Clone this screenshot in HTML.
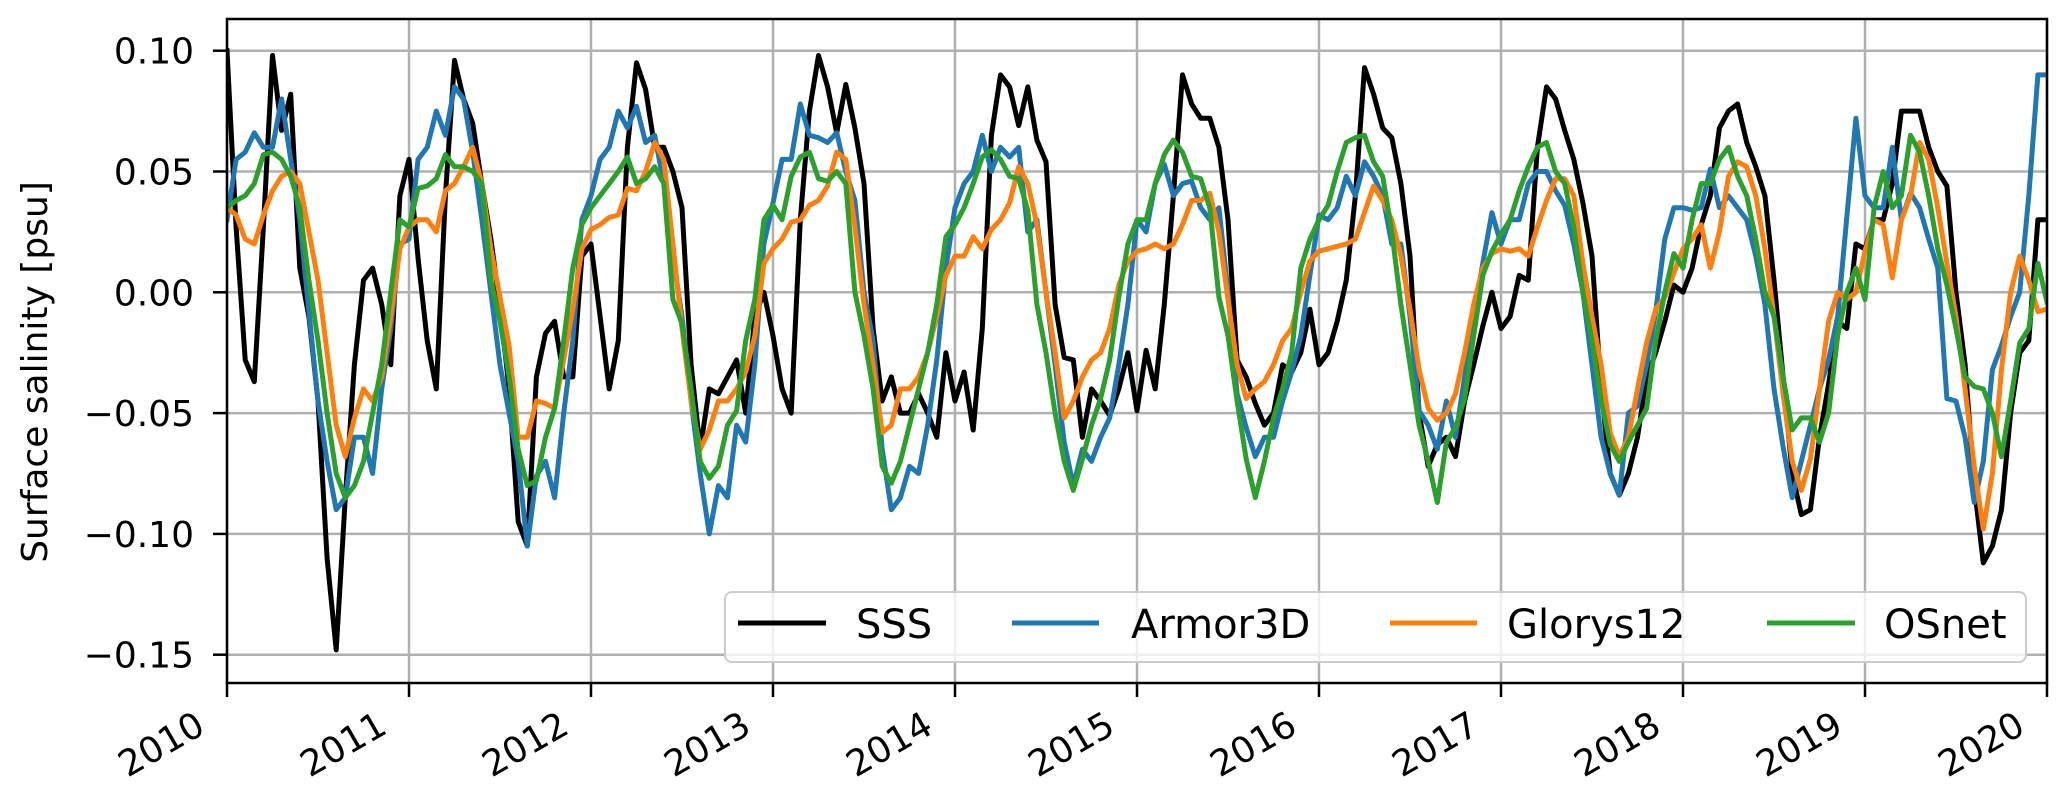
<!DOCTYPE html>
<html>
<head>
<meta charset="utf-8">
<style>
  html, body { margin: 0; padding: 0; background: #ffffff; }
  svg { display: block; }
  text { font-family: "DejaVu Sans", "Liberation Sans", sans-serif; fill: #000; }
</style>
</head>
<body>
<svg id="chart" width="2067" height="809" viewBox="0 0 2067 809" xmlns="http://www.w3.org/2000/svg">
  <rect x="0" y="0" width="2067" height="809" fill="#ffffff"/>
  <g id="grid"></g>
  <g id="series"></g>
  <g id="axes"></g>
  <text transform="translate(47,372) rotate(-90)" text-anchor="middle" font-size="36">Surface salinity [psu]</text>
  <g id="legend">
    <rect x="725" y="592" width="1301" height="70" rx="7" fill="#ffffff" fill-opacity="0.8" stroke="#cccccc" stroke-width="2"/>
    <g>
      <line x1="738" y1="623" x2="826" y2="623" stroke="#000000" stroke-width="5"/>
      <text x="856" y="638" font-size="40">SSS</text>
    </g>
    <g>
      <line x1="1012" y1="623" x2="1099" y2="623" stroke="#1f77b4" stroke-width="5"/>
      <text x="1131" y="638" font-size="40">Armor3D</text>
    </g>
    <g>
      <line x1="1390" y1="623" x2="1477" y2="623" stroke="#ff7f0e" stroke-width="5"/>
      <text x="1507" y="638" font-size="40">Glorys12</text>
    </g>
    <g>
      <line x1="1767" y1="623" x2="1855" y2="623" stroke="#2ca02c" stroke-width="5"/>
      <text x="1884" y="638" font-size="40">OSnet</text>
    </g>
  </g>
</svg>
<script>
// ---- data (t = 2010 + i*0.05 years) ----
const startYear = 2010;
const stepYears = 0.05;
const xTickYears = [2010, 2011, 2012, 2013, 2014, 2015, 2016, 2017, 2018, 2019, 2020];
const yTickValues = [0.10, 0.05, 0.00, -0.05, -0.10, -0.15];
const yTickLabels = ["0.10", "0.05", "0.00", "\u22120.05", "\u22120.10", "\u22120.15"];
const seriesNames = ["SSS", "Armor3D", "Glorys12", "OSnet"];

const sssValues = [
0.10,0.027,-0.028,-0.037,0.027,0.098,0.067,0.082,0.01,-0.01,-0.045,-0.11,-0.148,-0.085,-0.03,0.005,0.01,-0.005,-0.03,0.04,
0.055,0.014,-0.02,-0.04,0.04,0.096,0.08,0.07,0.045,0.022,-0.006,-0.04,-0.095,-0.105,-0.035,-0.017,-0.012,-0.035,-0.035,0.015,
0.02,-0.01,-0.04,-0.02,0.06,0.095,0.084,0.06,0.06,0.05,0.035,-0.03,-0.065,-0.04,-0.042,-0.035,-0.028,-0.05,-0.01,0.0,
-0.018,-0.04,-0.05,0.03,0.075,0.098,0.085,0.066,0.086,0.068,0.045,-0.015,-0.045,-0.035,-0.05,-0.05,-0.042,-0.05,-0.06,-0.025,
-0.045,-0.033,-0.057,-0.015,0.065,0.09,0.085,0.069,0.085,0.063,0.054,-0.005,-0.027,-0.028,-0.06,-0.04,-0.045,-0.051,-0.04,-0.025,
-0.049,-0.024,-0.04,-0.005,0.04,0.09,0.078,0.072,0.072,0.06,0.03,-0.028,-0.035,-0.046,-0.055,-0.05,-0.03,-0.033,-0.025,-0.007,
-0.03,-0.025,-0.012,0.005,0.04,0.093,0.082,0.068,0.064,0.045,0.015,-0.05,-0.072,-0.063,-0.06,-0.068,-0.045,-0.03,-0.014,0.0,
-0.015,-0.01,0.007,0.005,0.06,0.085,0.08,0.067,0.055,0.037,0.015,-0.04,-0.075,-0.084,-0.075,-0.06,-0.035,-0.025,-0.012,0.003,
0.0,0.01,0.028,0.04,0.068,0.075,0.078,0.062,0.052,0.04,0.005,-0.035,-0.075,-0.092,-0.09,-0.06,-0.038,-0.012,-0.015,0.02,
0.018,0.03,0.03,0.045,0.075,0.075,0.075,0.06,0.05,0.044,0.0,-0.03,-0.08,-0.112,-0.105,-0.09,-0.05,-0.025,-0.02,0.03,
0.03];

const armorValues = [
0.03,0.055,0.058,0.066,0.06,0.06,0.08,0.055,0.03,-0.008,-0.045,-0.07,-0.09,-0.085,-0.06,-0.06,-0.075,-0.04,-0.015,0.02,
0.022,0.055,0.06,0.075,0.065,0.085,0.08,0.058,0.03,0.0,-0.03,-0.05,-0.07,-0.105,-0.076,-0.07,-0.085,-0.05,-0.02,0.03,
0.04,0.055,0.06,0.075,0.068,0.077,0.062,0.065,0.045,0.015,-0.01,-0.045,-0.075,-0.10,-0.08,-0.085,-0.055,-0.062,-0.03,0.02,
0.037,0.055,0.055,0.078,0.065,0.064,0.062,0.066,0.05,0.038,0.0,-0.02,-0.065,-0.09,-0.085,-0.072,-0.075,-0.055,-0.028,0.01,
0.035,0.045,0.05,0.065,0.05,0.06,0.056,0.06,0.025,0.03,0.0,-0.03,-0.062,-0.08,-0.065,-0.07,-0.06,-0.052,-0.03,-0.005,
0.03,0.025,0.045,0.053,0.04,0.045,0.046,0.035,0.03,0.035,0.0,-0.042,-0.056,-0.068,-0.06,-0.06,-0.045,-0.033,-0.018,0.007,
0.032,0.03,0.035,0.048,0.04,0.054,0.048,0.04,0.02,0.02,-0.01,-0.049,-0.055,-0.065,-0.045,-0.06,-0.035,-0.01,0.012,0.033,
0.02,0.03,0.03,0.045,0.05,0.05,0.042,0.036,0.02,0.0,-0.03,-0.06,-0.075,-0.084,-0.05,-0.047,-0.03,-0.008,0.022,0.035,
0.035,0.034,0.035,0.051,0.035,0.04,0.035,0.03,0.015,-0.005,-0.04,-0.064,-0.085,-0.07,-0.055,-0.04,-0.028,-0.01,0.031,0.072,
0.04,0.035,0.035,0.06,0.03,0.041,0.035,0.022,0.01,-0.044,-0.045,-0.06,-0.087,-0.07,-0.032,-0.022,-0.01,0.0,0.04,0.09,
0.09];

const glorysValues = [
0.035,0.032,0.022,0.02,0.032,0.042,0.048,0.05,0.045,0.025,0.005,-0.025,-0.055,-0.068,-0.052,-0.04,-0.045,-0.035,-0.01,0.018,
0.027,0.03,0.03,0.025,0.042,0.045,0.052,0.06,0.045,0.018,-0.002,-0.022,-0.06,-0.06,-0.045,-0.046,-0.048,-0.028,-0.007,0.018,
0.026,0.028,0.031,0.032,0.043,0.042,0.05,0.062,0.055,0.02,-0.015,-0.045,-0.065,-0.057,-0.045,-0.045,-0.04,-0.033,-0.018,0.012,
0.018,0.022,0.029,0.03,0.036,0.038,0.044,0.058,0.055,0.027,-0.005,-0.03,-0.058,-0.055,-0.04,-0.04,-0.035,-0.025,-0.01,0.007,
0.015,0.015,0.023,0.018,0.026,0.03,0.037,0.052,0.045,0.028,0.0,-0.025,-0.052,-0.045,-0.035,-0.028,-0.025,-0.015,0.003,0.013,
0.017,0.018,0.02,0.018,0.02,0.028,0.038,0.038,0.041,0.025,-0.003,-0.03,-0.044,-0.04,-0.037,-0.03,-0.02,-0.015,0.0,0.013,
0.017,0.018,0.019,0.02,0.022,0.033,0.044,0.038,0.03,0.015,-0.007,-0.032,-0.048,-0.053,-0.05,-0.042,-0.025,-0.005,0.01,0.016,
0.018,0.017,0.018,0.015,0.027,0.038,0.047,0.047,0.04,0.012,-0.01,-0.03,-0.058,-0.068,-0.06,-0.04,-0.021,-0.007,-0.002,0.008,
0.018,0.022,0.028,0.01,0.025,0.048,0.054,0.052,0.04,0.018,-0.01,-0.042,-0.07,-0.082,-0.069,-0.04,-0.012,0.0,-0.003,0.0,
0.017,0.03,0.028,0.006,0.03,0.04,0.062,0.055,0.035,0.012,-0.01,-0.04,-0.072,-0.098,-0.075,-0.032,0.0,0.015,0.005,-0.008,
-0.007];

const osnetValues = [
0.035,0.038,0.04,0.045,0.057,0.058,0.055,0.048,0.035,0.005,-0.02,-0.05,-0.075,-0.085,-0.08,-0.07,-0.05,-0.03,0.0,0.03,
0.027,0.043,0.044,0.047,0.057,0.052,0.052,0.05,0.045,0.005,-0.012,-0.035,-0.065,-0.08,-0.078,-0.06,-0.048,-0.02,0.01,0.028,
0.035,0.04,0.045,0.05,0.056,0.045,0.047,0.052,0.045,-0.003,-0.013,-0.04,-0.07,-0.077,-0.072,-0.055,-0.049,-0.02,-0.003,0.03,
0.036,0.03,0.048,0.056,0.058,0.047,0.046,0.05,0.045,0.0,-0.018,-0.04,-0.072,-0.079,-0.07,-0.055,-0.04,-0.025,-0.005,0.023,
0.028,0.035,0.045,0.056,0.059,0.055,0.048,0.047,0.034,-0.005,-0.025,-0.05,-0.07,-0.082,-0.069,-0.055,-0.044,-0.028,-0.002,0.02,
0.03,0.03,0.045,0.057,0.063,0.058,0.048,0.047,0.035,-0.002,-0.018,-0.045,-0.069,-0.085,-0.07,-0.052,-0.04,-0.025,0.01,0.022,
0.03,0.036,0.05,0.062,0.064,0.065,0.054,0.048,0.025,-0.005,-0.03,-0.055,-0.07,-0.087,-0.062,-0.056,-0.044,-0.018,0.007,0.017,
0.024,0.03,0.042,0.052,0.06,0.062,0.05,0.045,0.027,0.0,-0.02,-0.045,-0.063,-0.07,-0.062,-0.055,-0.048,-0.02,0.0,0.016,
0.01,0.03,0.045,0.045,0.055,0.06,0.048,0.04,0.022,0.0,-0.01,-0.035,-0.057,-0.052,-0.052,-0.062,-0.05,-0.018,0.0,0.01,
-0.003,0.035,0.05,0.035,0.04,0.065,0.058,0.04,0.018,0.003,-0.015,-0.035,-0.039,-0.04,-0.05,-0.068,-0.045,-0.021,-0.015,0.012,
-0.004];

// ---- layout ----
const NS = "http://www.w3.org/2000/svg";
const plotLeft = 227, plotRight = 2047, plotTop = 19, plotBottom = 683;
const xMin = 2010, xMax = 2020;
const yRef0 = 292.3, pxPerUnit = 2416;
function xScale(year) { return plotLeft + (year - xMin) / (xMax - xMin) * (plotRight - plotLeft); }
function yScale(v) { return yRef0 - v * pxPerUnit; }

function mk(tag, attrs) {
  const el = document.createElementNS(NS, tag);
  for (const k in attrs) el.setAttribute(k, attrs[k]);
  return el;
}

const grid = document.getElementById("grid");
const axes = document.getElementById("axes");
const seriesG = document.getElementById("series");

// grid lines
xTickYears.forEach(function (yr) {
  const x = xScale(yr);
  const l = mk("line", {x1: x, y1: plotTop, x2: x, y2: plotBottom, stroke: "#b0b0b0", "stroke-width": 2.5});
  
  
  grid.appendChild(l);
});
yTickValues.forEach(function (v) {
  const y = yScale(v);
  const l = mk("line", {x1: plotLeft, y1: y, x2: plotRight, y2: y, stroke: "#b0b0b0", "stroke-width": 2.5});
  
  
  grid.appendChild(l);
});

// series
const seriesColors = ["#000000", "#1f77b4", "#ff7f0e", "#2ca02c"];
const allSeries = [sssValues, armorValues, glorysValues, osnetValues];
const seriesIds = ["series-sss", "series-armor3d", "series-glorys12", "series-osnet"];
const clip = mk("clipPath", {id: "plotclip"});
clip.appendChild(mk("rect", {x: plotLeft, y: plotTop, width: plotRight - plotLeft, height: plotBottom - plotTop}));
document.getElementById("chart").insertBefore(clip, document.getElementById("chart").firstChild);
allSeries.forEach(function (vals, si) {
  let d = "";
  vals.forEach(function (v, i) {
    const x = xScale(startYear + i * stepYears);
    const y = yScale(v);
    d += (i === 0 ? "M" : "L") + x.toFixed(1) + "," + y.toFixed(1);
  });
  const p = mk("path", {d: d, fill: "none", stroke: seriesColors[si], "stroke-width": 5, "stroke-linejoin": "round", "stroke-linecap": "square", "clip-path": "url(#plotclip)"});
  
  
  seriesG.appendChild(p);
});

// spines
const frame = mk("rect", {x: plotLeft, y: plotTop, width: plotRight - plotLeft, height: plotBottom - plotTop, fill: "none", stroke: "#000", "stroke-width": 2.5});


axes.appendChild(frame);

// y ticks
yTickValues.forEach(function (v, i) {
  const y = yScale(v);
  const t = mk("line", {x1: plotLeft - 14, y1: y, x2: plotLeft, y2: y, stroke: "#000", "stroke-width": 2.5});
  
  
  axes.appendChild(t);
  const lab = mk("text", {x: 194, y: y + 13, "text-anchor": "end", "font-size": 36});
  lab.textContent = yTickLabels[i];
  
  
  axes.appendChild(lab);
});

// x ticks
xTickYears.forEach(function (yr) {
  const x = xScale(yr);
  const t = mk("line", {x1: x, y1: plotBottom, x2: x, y2: plotBottom + 14, stroke: "#000", "stroke-width": 2.5});
  
  
  axes.appendChild(t);
  const ax = x - 20, ay = 732;
  const lab = mk("text", {x: ax, y: ay, "text-anchor": "end", "font-size": 36, transform: "rotate(-30 " + ax + " " + ay + ")"});
  lab.textContent = String(yr);
  
  
  axes.appendChild(lab);
});
</script>
</body>
</html>
